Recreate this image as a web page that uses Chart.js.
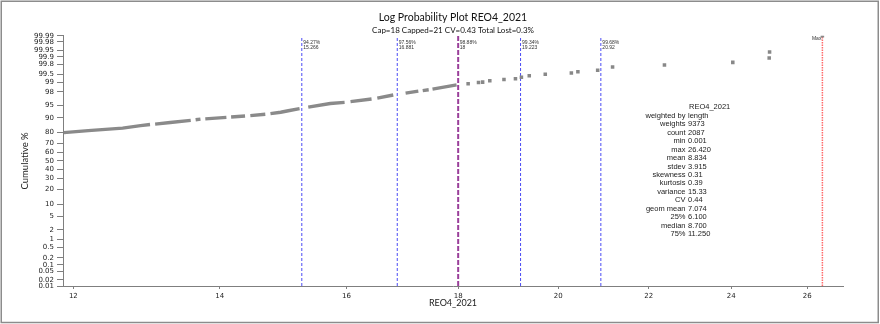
<!DOCTYPE html>
<html>
<head>
<meta charset="utf-8">
<title>Log Probability Plot REO4_2021</title>
<script src="https://cdn.jsdelivr.net/npm/chart.js@4/dist/chart.umd.min.js"></script>
<style>
  body { margin: 0; background: #fff; }
  #wrap { width: 880px; height: 324px; }
</style>
</head>
<body>
<div id="wrap"><canvas id="probChart" width="880" height="324"></canvas></div>
<script>
// x values (REO4_2021) and cumulative % for the dense part of the curve, one array per dash
const curveDashes = [
    [[11.88, 80.0], [12.19, 81.6], [12.64, 83.5], [12.88, 85.3], [13.01, 86.0]],
    [[13.08, 86.3], [13.29, 87.3], [13.58, 88.6]],
    [[13.65, 88.95], [13.72, 89.3]],
    [[13.79, 89.4], [14.10, 90.2]],
    [[14.17, 90.4], [14.38, 90.9]],
    [[14.46, 91.1], [14.69, 91.7]],
    [[14.77, 92.0], [14.93, 92.6], [15.05, 93.2], [15.23, 94.0]],
    [[15.37, 94.5], [15.73, 95.6], [15.97, 95.9]],
    [[16.07, 96.1], [16.43, 96.7]],
    [[16.53, 96.9], [16.81, 97.5]],
    [[17.03, 97.8], [17.26, 98.1]],
    [[17.34, 98.17], [17.45, 98.28]],
    [[17.52, 98.36], [17.97, 98.81]]
];

// the sparse upper tail
const tailX   = [18.19, 18.39, 18.47, 18.61, 18.89, 19.12, 19.24, 19.40, 19.73, 20.28, 20.42, 20.85, 21.18, 22.37, 24.04, 24.98, 24.99, 26.42];
const tailPct = [98.90, 99.01, 99.04, 99.14, 99.22, 99.27, 99.36, 99.43, 99.50, 99.55, 99.60, 99.65, 99.74, 99.78, 99.83, 99.89, 99.94, 99.99];

// marker lines: value and cumulative % at that value
const markerX   = [15.266, 16.881, 18, 19.223, 20.92];
const markerPct = [94.27, 97.56, 98.88, 99.34, 99.68];
const capValue = 18;
const maxValue = 26.42;

const xTicks = [12, 14, 16, 18, 20, 22, 24, 26];
const pctTicks = [0.01, 0.02, 0.05, 0.1, 0.2, 0.5, 1, 2, 5, 10, 20, 30, 40, 50, 60, 70, 80, 90, 95, 98, 99, 99.5, 99.8, 99.9, 99.95, 99.98, 99.99];

const statTitle = 'REO4_2021';
const statLabels = ['weighted by', 'weights', 'count', 'min', 'max', 'mean', 'stdev', 'skewness', 'kurtosis', 'variance', 'CV', 'geom mean', '25%', 'median', '75%'];
const statValues = ['length', '9373', '2087', '0.001', '26.420', '8.834', '3.915', '0.31', '0.39', '15.33', '0.44', '7.074', '6.100', '8.700', '11.250'];

// inverse normal CDF (Acklam)
function probit(p) {
    const a = [-3.969683028665376e+01, 2.209460984245205e+02, -2.759285104469687e+02, 1.383577518672690e+02, -3.066479806614716e+01, 2.506628277459239e+00];
    const b = [-5.447609879822406e+01, 1.615858368580409e+02, -1.556989798598866e+02, 6.680131188771972e+01, -1.328068155288572e+01];
    const c = [-7.784894002430293e-03, -3.223964580411365e-01, -2.400758277161838e+00, -2.549732539343734e+00, 4.374664141464968e+00, 2.938163982698783e+00];
    const d = [7.784695709041462e-03, 3.224671290700398e-01, 2.445134137142996e+00, 3.754408661907416e+00];
    const pl = 0.02425;
    let q, r;
    if (p < pl) {
        q = Math.sqrt(-2 * Math.log(p));
        return (((((c[0]*q+c[1])*q+c[2])*q+c[3])*q+c[4])*q+c[5]) / ((((d[0]*q+d[1])*q+d[2])*q+d[3])*q+1);
    }
    if (p > 1 - pl) {
        q = Math.sqrt(-2 * Math.log(1 - p));
        return -(((((c[0]*q+c[1])*q+c[2])*q+c[3])*q+c[4])*q+c[5]) / ((((d[0]*q+d[1])*q+d[2])*q+d[3])*q+1);
    }
    q = p - 0.5;
    r = q * q;
    return (((((a[0]*r+a[1])*r+a[2])*r+a[3])*r+a[4])*r+a[5])*q / (((((b[0]*r+b[1])*r+b[2])*r+b[3])*r+b[4])*r+1);
}

function normCdf(z) {
    const t = 1 / (1 + 0.3275911 * Math.abs(z) / Math.SQRT2);
    const y = 1 - (((((1.061405429*t - 1.453152027)*t) + 1.421413741)*t - 0.284496736)*t + 0.254829592)*t * Math.exp(-z*z/2);
    return z >= 0 ? 0.5 * (1 + y) : 0.5 * (1 - y);
}

// normal probability axis: values in %, spaced by their z-score
class ProbabilityScale extends Chart.Scale {
    determineDataLimits() {
        const { min, max } = this.getUserBounds();
        this.min = min;
        this.max = max;
    }
    buildTicks() {
        return pctTicks.filter(v => v >= this.min && v <= this.max).map(v => ({ value: v }));
    }
    getLabelForValue(v) {
        return String(v);
    }
    configure() {
        super.configure();
        this._zMin = probit(this.min / 100);
        this._zMax = probit(this.max / 100);
    }
    getPixelForValue(v) {
        if (v === null || v === undefined || isNaN(v)) return NaN;
        const z = probit(v / 100);
        return this.getPixelForDecimal((z - this._zMin) / (this._zMax - this._zMin));
    }
    getValueForPixel(px) {
        const dec = this.getDecimalForPixel(px);
        return 100 * normCdf(this._zMin + dec * (this._zMax - this._zMin));
    }
}
ProbabilityScale.id = 'probability';
ProbabilityScale.defaults = {};
Chart.register(ProbabilityScale);

const axisGray = '#7f7f7f';
const tickFont = { family: 'DejaVu Sans', size: 7 };

// build the datasets
const curveData = [];
curveDashes.forEach(dash => {
    dash.forEach(([x, y]) => curveData.push({ x: x, y: y }));
    curveData.push({ x: dash[dash.length - 1][0], y: null });
});

const datasets = [
    {
        data: tailX.map((x, i) => ({ x: x, y: tailPct[i] })),
        pointStyle: 'rect',
        pointRadius: 2.5,
        backgroundColor: '#888888',
        borderWidth: 0
    },
    {
        data: curveData,
        showLine: true,
        spanGaps: false,
        pointRadius: 0,
        borderColor: '#8a8a8a',
        borderWidth: 3.4,
        borderCapStyle: 'butt'
    }
];

markerX.forEach(v => {
    const isCap = v === capValue;
    datasets.push({
        data: [{ x: v, y: 0.01 }, { x: v, y: 99.99 }],
        showLine: true,
        pointRadius: 0,
        borderColor: isCap ? '#9a3f9a' : '#4b4bf5',
        borderWidth: isCap ? 2 : 1,
        borderDash: isCap ? [5, 2] : [3, 2]
    });
});
datasets.push({
    data: [{ x: maxValue, y: 0.01 }, { x: maxValue, y: 99.99 }],
    showLine: true,
    pointRadius: 0,
    borderColor: '#ff6b6b',
    borderWidth: 1.5,
    borderDash: [1.5, 1]
});

// marker captions, the statistics block and the outer frame
const annotations = {
    id: 'annotations',
    afterDraw(chart) {
        const { ctx, chartArea } = chart;
        const x = chart.scales.x;
        ctx.save();

        ctx.font = '5px "Liberation Sans"';
        ctx.fillStyle = '#333';
        ctx.textBaseline = 'middle';
        ctx.textAlign = 'left';
        markerX.forEach((v, i) => {
            const px = x.getPixelForValue(v);
            ctx.fillText(markerPct[i] + '%', px + 1.5, chartArea.top + 6.5);
            ctx.fillText(String(v), px + 1.5, chartArea.top + 11.5);
        });
        ctx.textAlign = 'right';
        ctx.fillText('Max', x.getPixelForValue(maxValue) - 1, chartArea.top + 3);

        ctx.font = '7.5px "Liberation Sans"';
        ctx.fillStyle = '#222';
        const colX = 687;
        const rowY = 107.3;
        const rowH = 8.45;
        ctx.textAlign = 'left';
        ctx.fillText(statTitle, colX + 2, rowY);
        statLabels.forEach((label, i) => {
            const y = rowY + rowH * (i + 1);
            ctx.textAlign = 'right';
            ctx.fillText(label, colX - 1.5, y);
            ctx.textAlign = 'left';
            ctx.fillText(statValues[i], colX + 1, y);
        });

        ctx.strokeStyle = '#8c8c8c';
        ctx.lineWidth = 1.5;
        ctx.strokeRect(1.25, 1.25, 877, 321.25);
        ctx.restore();
    }
};

const ctx = document.getElementById('probChart').getContext('2d');
const probChart = new Chart(ctx, {
    type: 'scatter',
    data: { datasets: datasets },
    plugins: [annotations],
    options: {
        responsive: false,
        animation: false,
        events: [],
        layout: { padding: { left: 0, right: 37, top: 0, bottom: 0 } },
        plugins: {
            legend: { display: false },
            tooltip: { enabled: false },
            title: {
                display: true,
                fullSize: false,
                text: 'Log Probability Plot REO4_2021',
                color: '#111',
                font: { family: 'Lato', size: 10.5, weight: 'normal' },
                padding: { top: 11, bottom: 1 }
            },
            subtitle: {
                display: true,
                fullSize: false,
                text: 'Cap=18 Capped=21 CV=0.43 Total Lost=0.3%',
                color: '#111',
                font: { family: 'Lato', size: 8 },
                padding: { top: 1.2, bottom: 0.4 }
            }
        },
        scales: {
            x: {
                type: 'logarithmic',
                min: 11.87,
                max: 27.0,
                afterBuildTicks: scale => { scale.ticks = xTicks.map(v => ({ value: v })); },
                afterFit: scale => { scale.height = 38; },
                ticks: {
                    autoSkip: false,
                    maxRotation: 0,
                    padding: 2.5,
                    color: '#222',
                    font: tickFont,
                    callback: v => String(v)
                },
                grid: { drawOnChartArea: false, tickLength: 3, color: axisGray },
                border: { color: axisGray },
                title: {
                    display: true,
                    text: 'REO4_2021',
                    color: '#222',
                    font: { family: 'Lato', size: 9 },
                    padding: { top: 0, bottom: 15.8 }
                }
            },
            y: {
                type: 'probability',
                min: 0.01,
                max: 99.99,
                afterFit: scale => { scale.width = 63; },
                ticks: {
                    autoSkip: false,
                    padding: 3,
                    color: '#222',
                    font: tickFont
                },
                grid: { drawOnChartArea: false, tickLength: 6, color: axisGray },
                border: { color: axisGray },
                title: {
                    display: true,
                    text: 'Cumulative %',
                    color: '#222',
                    font: { family: 'Lato', size: 9.5 },
                    padding: { top: 19.5, bottom: 0 }
                }
            }
        }
    }
});
</script>
</body>
</html>
